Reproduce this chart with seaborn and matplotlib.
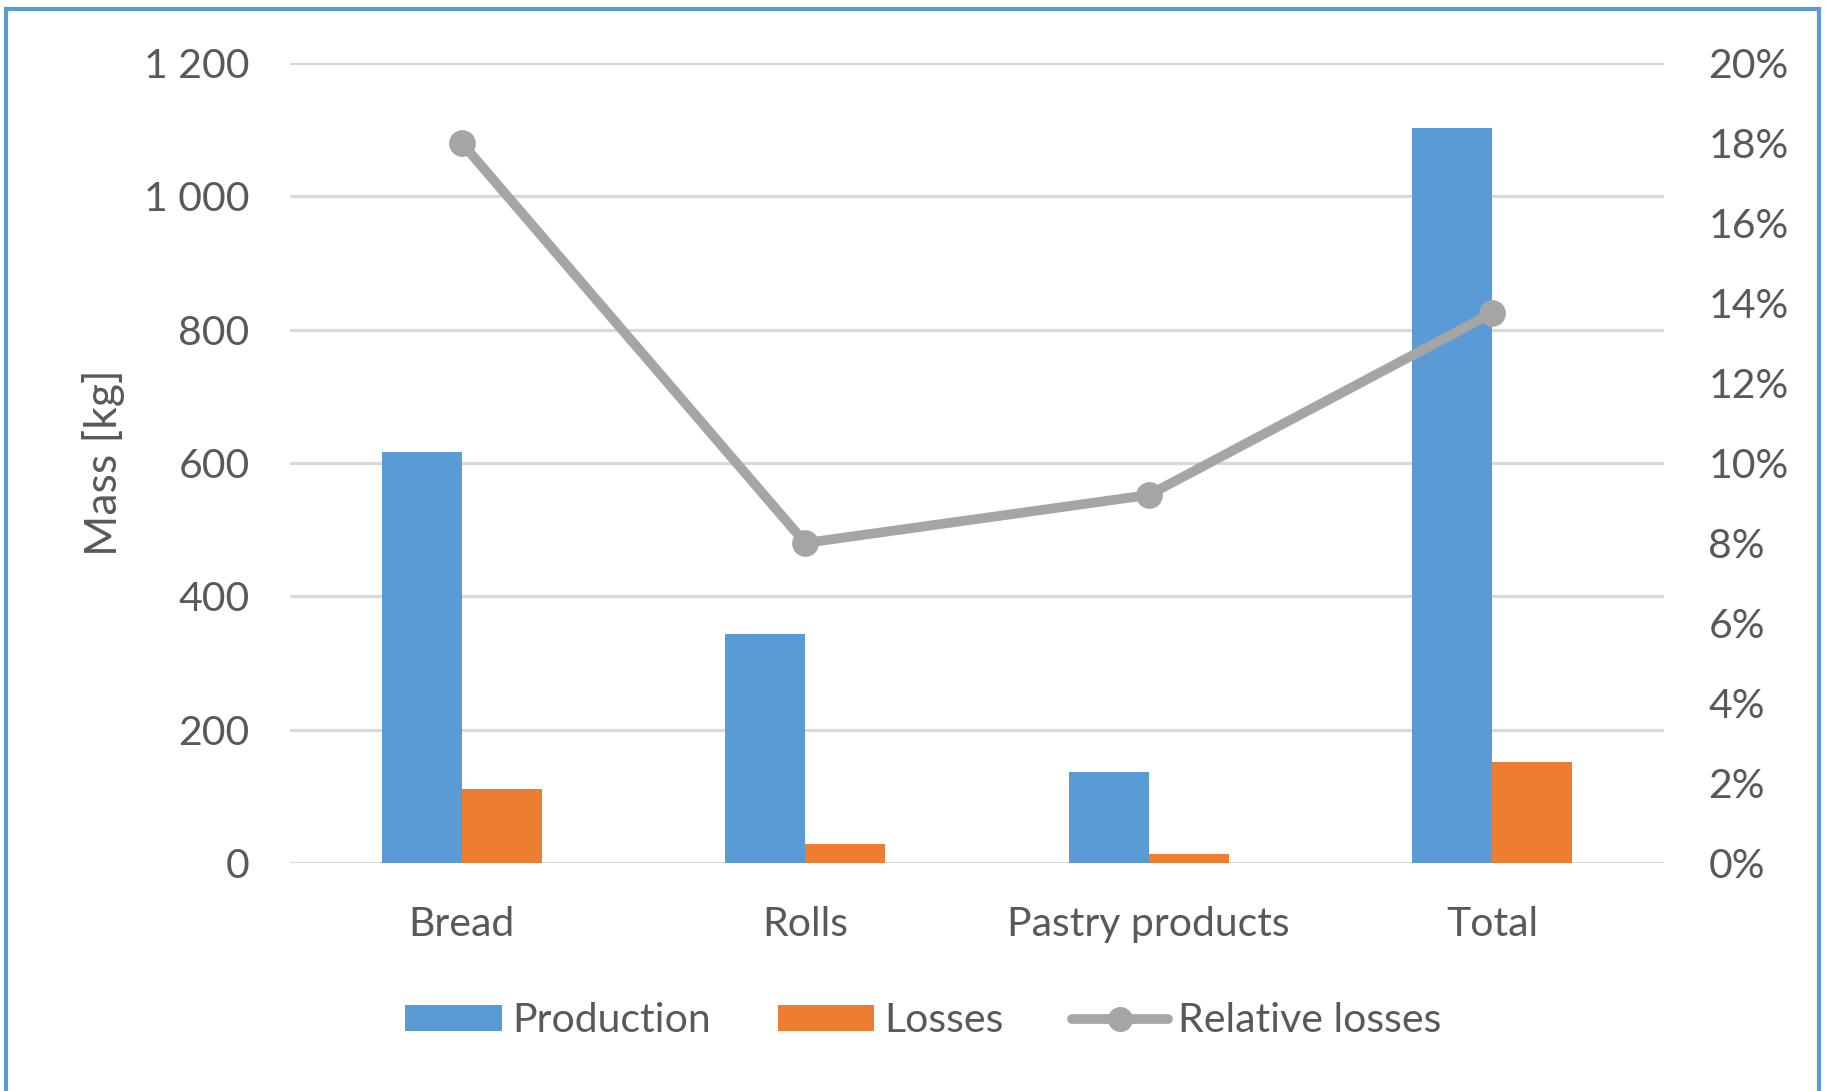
import matplotlib
matplotlib.use("Agg")
import matplotlib.pyplot as plt
import seaborn as sns
import pandas as pd
from matplotlib.lines import Line2D
from matplotlib.patches import Patch, Rectangle

# ---- data ----
categories = ["Bread", "Rolls", "Pastry products", "Total"]
production = [617, 344, 137, 1102]
losses = [111, 29, 13, 152]
relative_losses = [0.180, 0.080, 0.092, 0.1375]
left_ticks = [0, 200, 400, 600, 800, 1000, 1200]
left_tick_labels = ["0", "200", "400", "600", "800", "1 000", "1 200"]
right_ticks = [0.00, 0.02, 0.04, 0.06, 0.08, 0.10, 0.12, 0.14, 0.16, 0.18, 0.20]
right_tick_labels = ["0%", "2%", "4%", "6%", "8%", "10%", "12%", "14%", "16%", "18%", "20%"]
series_names = ["Production", "Losses", "Relative losses"]

BLUE = "#5b9bd5"
ORANGE = "#ed7d31"
GRAY = "#a5a5a5"
GRID = "#d9d9d9"
TEXT = "#595959"
FS = 29.5

sns.set_theme(style="white")
plt.rcParams["font.family"] = ["Lato", "DejaVu Sans"]

df = pd.DataFrame({
    "category": categories * 2,
    "series": [series_names[0]] * len(categories) + [series_names[1]] * len(categories),
    "value": production + losses,
})

fig = plt.figure(figsize=(18.25, 10.91), dpi=100)
ax = fig.add_axes([290 / 1825, 228 / 1091, 1374 / 1825, 800 / 1091])

sns.barplot(data=df, x="category", y="value", hue="series", order=categories,
            hue_order=series_names[:2], palette=[BLUE, ORANGE], width=0.465,
            gap=0, saturation=1, ax=ax, legend=False, zorder=2,
            linewidth=0, edgecolor="none")

ax.set_xlim(-0.5, len(categories) - 0.5)
ax.set_ylim(0, 1200)
ax.set_yticks(left_ticks)
ax.set_yticklabels(left_tick_labels)
ax.yaxis.grid(True, color=GRID, linewidth=2.3, zorder=0)
ax.set_axisbelow(True)
for s in ax.spines.values():
    s.set_visible(False)
ax.tick_params(axis="y", length=0, pad=29, labelsize=FS, labelcolor=TEXT)
ax.tick_params(axis="x", length=0, pad=31, labelsize=FS, labelcolor=TEXT)
ax.set_xlabel("")
ax.set_ylabel("Mass [kg]", fontsize=32, color=TEXT, labelpad=14)

ax2 = ax.twinx()
sns.pointplot(x=categories, y=relative_losses, order=categories, color=GRAY,
              markers="o", linestyles="-", markersize=14, linewidth=7,
              ax=ax2, zorder=3)
ax2.set_ylim(0, 0.20)
ax2.set_xlim(-0.5, len(categories) - 0.5)
ax2.set_yticks(right_ticks)
ax2.set_yticklabels(right_tick_labels)
for s in ax2.spines.values():
    s.set_visible(False)
ax2.tick_params(axis="y", length=0, pad=32, labelsize=FS, labelcolor=TEXT)
ax2.grid(False)
ax2.set_ylabel("")

handles = [
    Patch(facecolor=BLUE, edgecolor="none"),
    Patch(facecolor=ORANGE, edgecolor="none"),
    Line2D([0], [0], color=GRAY, lw=7, marker="o", markersize=17),
]
fig.legend(handles, series_names, loc="center", bbox_to_anchor=(0.506, 1 - 1021 / 1091),
           ncol=3, frameon=False, fontsize=FS, labelcolor=TEXT,
           handlelength=2.35, handleheight=0.6, handletextpad=0.25, columnspacing=1.65)

border = Rectangle((6 / 1825, -0.05), (1819 - 6) / 1825, 1.05 - 9 / 1091,
                   transform=fig.transFigure, fill=False, edgecolor=BLUE,
                   linewidth=3, clip_on=False)
fig.add_artist(border)

fig.savefig("out.png", dpi=100, facecolor="white")
